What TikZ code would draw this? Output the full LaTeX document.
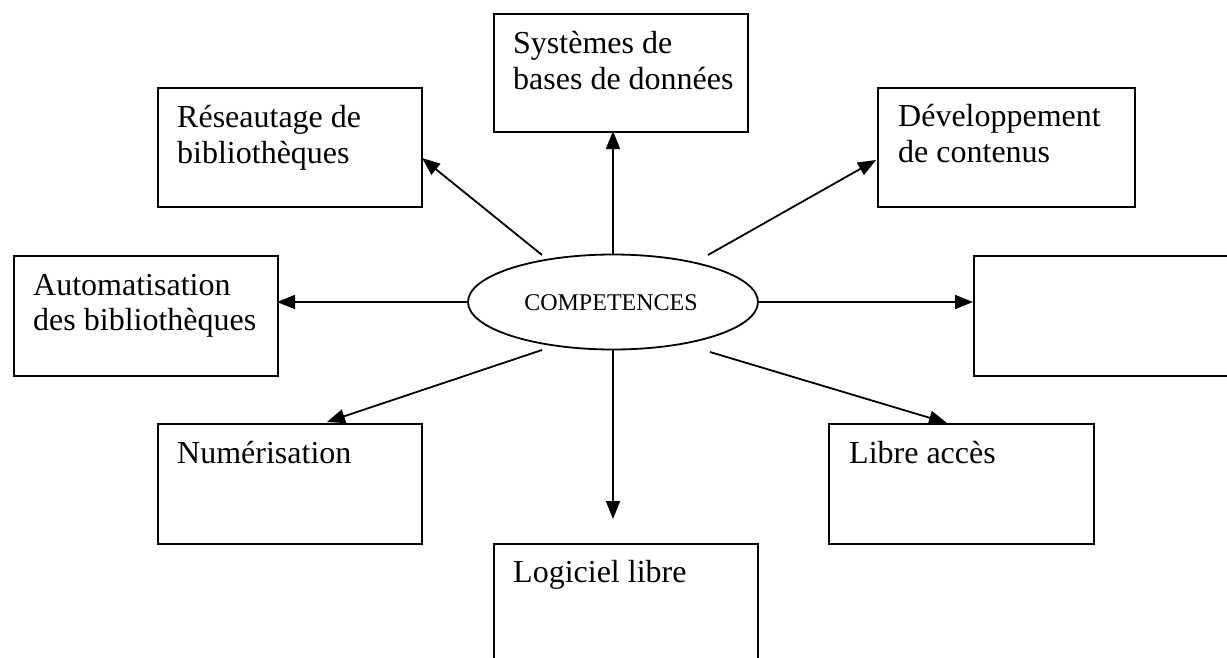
\documentclass[tikz,border=0pt]{standalone}
\usepackage{fontspec}
\setmainfont{Liberation Serif}
\usetikzlibrary{arrows.meta,shapes.geometric}
\tikzset{
  box/.style={draw, line width=2pt, anchor=north west, inner sep=0pt},
  txt/.style={anchor=base west, inner sep=0pt, font=\fontsize{32}{36}\selectfont},
  conn/.style={line width=1.8pt, -{Triangle[length=18pt,width=14pt]}},
}
\begin{document}
\begin{tikzpicture}[x=1pt,y=-1pt]
\useasboundingbox (0,0) rectangle (1227,657);
\clip (0,0) rectangle (1227,657);
% boxes
\node[box, minimum width=254pt, minimum height=118pt] (sys) at (493,13) {};
\node[box, minimum width=264pt, minimum height=119pt] (rese) at (157,87) {};
\node[box, minimum width=257pt, minimum height=119pt] (dev) at (877,87) {};
\node[box, minimum width=264pt, minimum height=120pt] (auto) at (13,255) {};
\node[box, minimum width=300pt, minimum height=120pt] (empty) at (973,255) {};
\node[box, minimum width=264pt, minimum height=120pt] (num) at (157,423) {};
\node[box, minimum width=265pt, minimum height=120pt] (libre) at (828,423) {};
\node[box, minimum width=264pt, minimum height=140pt] (logi) at (493,543) {};
% texts
\node[txt] (sysA) at (513,53) {Systèmes de};
\node[txt] (sysB) at (513,89) {bases de données};
\node[txt] (reseA) at (177,127) {Réseautage de};
\node[txt] (reseB) at (177,163) {bibliothèques};
\node[txt] (devA) at (898,126) {Développement};
\node[txt] (devB) at (898,162) {de contenus};
\node[txt] (autoA) at (33,295) {Automatisation};
\node[txt] (autoB) at (33,330) {des bibliothèques};
\node[txt] (numA) at (177,463) {Numérisation};
\node[txt] (libreA) at (849,463) {Libre accès};
\node[txt] (logiA) at (513,582) {Logiciel libre};
% ellipse
\node[draw, ellipse, line width=1.8pt, minimum width=290pt, minimum height=95pt, inner sep=0pt] (comp) at (613,302) {};
\node[anchor=base, inner sep=0pt, font=\fontsize{24}{28}\selectfont] (compT) at (611,310) {COMPETENCES};
% connector endpoints
\coordinate (sUp) at (613,255);
\coordinate (tUp) at (613,131);
\coordinate (sRese) at (542,255);
\coordinate (tRese) at (422,158);
\coordinate (sDev) at (708,255);
\coordinate (tDev) at (876,160);
\coordinate (sL) at (468,302);
\coordinate (tL) at (277,302);
\coordinate (sR) at (757,302);
\coordinate (tR) at (973,302);
\coordinate (sNum) at (542,350);
\coordinate (tNum) at (327,422);
\coordinate (sDown) at (613,350);
\coordinate (tDown) at (613,519);
\coordinate (sLib) at (710,352);
\coordinate (tLib) at (947,423);
% connectors
\draw[conn] (sUp) -- (tUp);
\draw[conn] (sRese) -- (tRese);
\draw[conn] (sDev) -- (tDev);
\draw[conn] (sL) -- (tL);
\draw[conn] (sR) -- (tR);
\draw[conn] (sNum) -- (tNum);
\draw[conn] (sDown) -- (tDown);
\draw[conn] (sLib) -- (tLib);
\end{tikzpicture}
\end{document}
